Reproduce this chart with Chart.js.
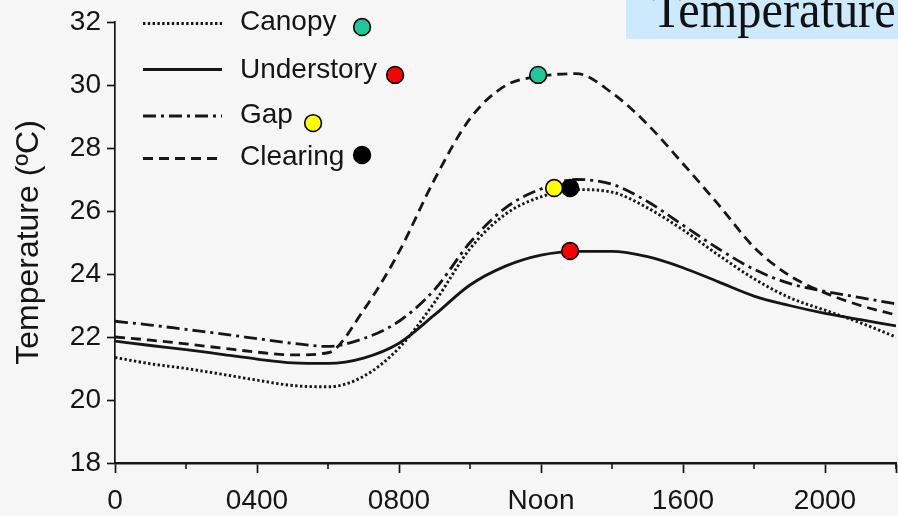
<!DOCTYPE html>
<html>
<head>
<meta charset="utf-8">
<script src="https://cdn.jsdelivr.net/npm/chart.js@4.4.1/dist/chart.umd.min.js"></script>
<style>
  html, body { margin: 0; padding: 0; background: #f6f6f6; }
  #wrap { width: 898px; height: 516px; }
</style>
</head>
<body>
<div id="wrap"><canvas id="chart" width="898" height="516"></canvas></div>
<script>
// Diurnal air temperature (°C) by hour of day for four forest habitats
const hours = [0, 1, 2, 3, 4, 5, 6, 7, 8, 9, 10, 11, 12, 13, 14, 15, 16, 17, 18, 19, 20, 21, 22];
const canopy = [21.35, 21.15, 21.0, 20.82, 20.63, 20.46, 20.42, 20.75, 21.65, 23.1, 24.8, 25.9, 26.45, 26.68, 26.6, 26.1, 25.4, 24.6, 23.85, 23.25, 22.85, 22.45, 22.0];
const understory = [21.87, 21.73, 21.6, 21.45, 21.3, 21.18, 21.16, 21.33, 21.8, 22.7, 23.65, 24.25, 24.6, 24.72, 24.72, 24.55, 24.2, 23.75, 23.3, 23.0, 22.75, 22.55, 22.35];
const gap = [22.5, 22.38, 22.24, 22.1, 21.95, 21.8, 21.7, 21.95, 22.5, 23.5, 25.0, 26.1, 26.7, 27.0, 26.85, 26.3, 25.55, 24.8, 24.15, 23.7, 23.45, 23.25, 23.05];
const clearing = [22.0, 21.9, 21.78, 21.65, 21.52, 21.43, 21.5, 22.85, 24.7, 27.0, 28.93, 29.98, 30.28, 30.36, 29.75, 28.75, 27.5, 26.2, 24.85, 23.95, 23.4, 23.0, 22.7];

const seriesNames = ['Canopy', 'Understory', 'Gap', 'Clearing'];

// Axis ticks
const xTickHours = [0, 4, 8, 12, 16, 20];
const xTickLabels = ['0', '0400', '0800', 'Noon', '1600', '2000'];
const xMinorHours = [2, 6, 10, 14, 18, 22];
const yTicks = [18, 20, 22, 24, 26, 28, 30, 32];

// Colour dots: one next to each key entry, one at each curve's maximum
const dotColors = ['#1fc79c', '#ff0000', '#ffff00', '#000000'];
const dotKeyHours = [6.96, 7.89, 5.58, 6.96];
const dotKeyTemps = [31.84, 30.32, 28.79, 27.78];
const dotPeakHours = [11.92, 12.82, 12.37, 12.82];
const dotPeakTemps = [30.32, 24.73, 26.73, 26.73];

const INK = '#161616';
const TEXT = '#151515';
const SANS = '"Liberation Sans", Arial, sans-serif';
const lineStyles = [
  { dash: [2.4, 2.4], width: 2.9 },
  { dash: [], width: 2.8 },
  { dash: [13, 5, 3, 5], width: 2.8 },
  { dash: [10, 6], width: 2.8 }
];

const toPoints = (xs, ys) => xs.map((x, i) => ({ x: x, y: ys[i] }));

const lineSets = [canopy, understory, gap, clearing].map((vals, i) => ({
  label: seriesNames[i],
  data: toPoints(hours, vals),
  borderColor: INK,
  borderWidth: lineStyles[i].width,
  borderDash: lineStyles[i].dash,
  cubicInterpolationMode: 'monotone',
  pointRadius: 0,
  fill: false,
  order: 1
}));

const dotSets = dotColors.map((c, i) => ({
  label: 'dot' + i,
  type: 'scatter',
  data: [{ x: dotKeyHours[i], y: dotKeyTemps[i] }, { x: dotPeakHours[i], y: dotPeakTemps[i] }],
  backgroundColor: c,
  borderColor: '#000000',
  borderWidth: 1.6,
  pointRadius: 8.4,
  showLine: false,
  clip: false,
  order: 0
}));

// Page background, title banner, line key and short minor ticks
const decorPlugin = {
  id: 'decor',
  beforeDraw(chart) {
    const ctx = chart.ctx;
    ctx.save();
    ctx.fillStyle = '#f6f6f6';
    ctx.fillRect(0, 0, chart.width, chart.height);
    ctx.restore();
  },
  afterDraw(chart) {
    const ctx = chart.ctx;
    const xs = chart.scales.x;
    ctx.save();
    // minor ticks on the time axis
    ctx.strokeStyle = INK;
    ctx.lineWidth = 1.6;
    xMinorHours.forEach(h => {
      const px = xs.getPixelForValue(h);
      ctx.beginPath();
      ctx.moveTo(px, xs.top);
      ctx.lineTo(px, xs.top + 6);
      ctx.stroke();
    });
    // title banner
    ctx.fillStyle = '#cdeafc';
    ctx.fillRect(626, 0, 272, 39);
    ctx.save();
    ctx.beginPath();
    ctx.rect(626, 0, 272, 39);
    ctx.clip();
    ctx.translate(652, 27);
    ctx.scale(0.93, 1);
    ctx.fillStyle = '#111111';
    ctx.font = '52px "Liberation Serif", "Times New Roman", serif';
    ctx.textBaseline = 'alphabetic';
    ctx.textAlign = 'left';
    ctx.fillText('Temperature', 0, 0);
    ctx.restore();
    // key
    const rows = [23.5, 69.5, 116, 158.5];
    const textRows = [22.5, 70, 115, 157.5];
    ctx.font = '28px ' + SANS;
    ctx.textBaseline = 'middle';
    ctx.textAlign = 'left';
    chart.data.datasets.slice(0, 4).forEach((ds, i) => {
      ctx.strokeStyle = ds.borderColor;
      ctx.lineWidth = ds.borderWidth;
      ctx.setLineDash(ds.borderDash);
      ctx.beginPath();
      ctx.moveTo(143, rows[i]);
      ctx.lineTo(222, rows[i]);
      ctx.stroke();
      ctx.setLineDash([]);
      ctx.fillStyle = TEXT;
      ctx.fillText(ds.label, 240, textRows[i]);
    });
    ctx.restore();
  }
};

new Chart(document.getElementById('chart'), {
  type: 'line',
  data: { datasets: [...lineSets, ...dotSets] },
  options: {
    responsive: false,
    animation: false,
    devicePixelRatio: 1,
    layout: { autoPadding: false, padding: { top: 22, right: 2, left: 0, bottom: 0 } },
    plugins: {
      legend: { display: false },
      tooltip: { enabled: false },
      title: { display: false }
    },
    scales: {
      x: {
        type: 'linear',
        min: 0,
        max: 22,
        afterFit(scale) {
          scale.height = 53;
          scale.paddingLeft = 0;
          scale.paddingRight = 0;
        },
        afterBuildTicks(scale) {
          scale.ticks = xTickHours.concat([22]).map(v => ({ value: v }));
        },
        ticks: {
          autoSkip: false,
          maxRotation: 0,
          padding: 11,
          color: TEXT,
          font: { family: SANS, size: 28 },
          callback: (v) => {
            const i = xTickHours.indexOf(v);
            return i >= 0 ? xTickLabels[i] : '';
          }
        },
        grid: {
          drawOnChartArea: false,
          drawTicks: true,
          tickLength: 10,
          tickWidth: 1.7,
          tickColor: INK
        },
        border: { display: true, color: INK, width: 2.4 }
      },
      y: {
        type: 'linear',
        min: 18,
        max: 32,
        afterFit(scale) {
          scale.width = 115;
          scale.paddingTop = 0;
          scale.paddingBottom = 0;
        },
        afterBuildTicks(scale) {
          scale.ticks = yTicks.map(v => ({ value: v }));
        },
        ticks: {
          autoSkip: false,
          padding: 6,
          color: TEXT,
          font: { family: SANS, size: 28 }
        },
        grid: {
          drawOnChartArea: false,
          drawTicks: true,
          tickLength: 8,
          tickWidth: 1.7,
          tickColor: INK
        },
        border: { display: true, color: INK, width: 1.7 },
        title: {
          display: true,
          text: 'Temperature (ºC)',
          color: TEXT,
          font: { family: SANS, size: 32 },
          padding: { top: 10, bottom: 0 }
        }
      }
    }
  },
  plugins: [decorPlugin]
});
</script>
</body>
</html>
